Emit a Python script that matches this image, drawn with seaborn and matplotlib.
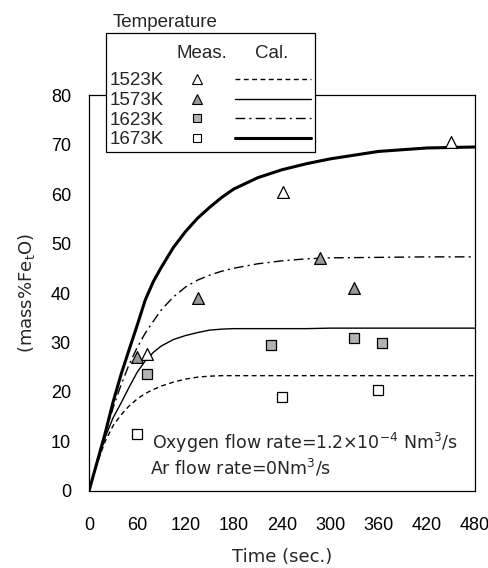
import numpy as np
import pandas as pd
import matplotlib
matplotlib.use('Agg')
import matplotlib.pyplot as plt
import seaborn as sns
from matplotlib.lines import Line2D
from matplotlib.legend_handler import HandlerBase

# ---------------- data ----------------
temps = ['1523K', '1573K', '1623K', '1673K']

# calculated curves (Cal.)
t_cal = [0, 10, 20, 30, 40, 50, 60, 70, 80, 90, 105, 120, 135, 150, 165, 180,
         210, 240, 270, 300, 360, 420, 480]
cal_1523 = [0, 5.5, 10.0, 13.2, 15.4, 17.2, 18.6, 19.7, 20.5, 21.2, 22.0, 22.6, 23.0,
            23.2, 23.3, 23.3, 23.3, 23.3, 23.3, 23.3, 23.3, 23.3, 23.3]
cal_1573 = [0, 5.6, 10.8, 14.8, 17.8, 21.0, 24.0, 26.3, 28.0, 29.3, 30.6, 31.4, 32.0,
            32.5, 32.7, 32.8, 32.8, 32.8, 32.8, 32.9, 32.9, 32.9, 32.9]
cal_1623 = [0, 5.8, 11.5, 16.8, 21.5, 25.6, 29.0, 31.9, 34.3, 36.6, 39.2, 41.2, 42.6,
            43.6, 44.4, 45.0, 45.9, 46.5, 46.9, 47.1, 47.2, 47.3, 47.3]
cal_1673 = [0, 5.8, 11.6, 18.0, 23.6, 28.6, 33.5, 38.6, 42.3, 45.2, 49.2, 52.4, 55.1,
            57.3, 59.3, 61.0, 63.3, 64.9, 66.1, 67.1, 68.6, 69.3, 69.5]

# measured points (Meas.)
t_1523 = [72, 241, 450]
m_1523 = [27.6, 60.4, 70.5]
t_1573 = [60, 135, 287, 330]
m_1573 = [27.1, 39.0, 47.0, 41.0]
t_1623 = [72, 227, 330, 365]
m_1623 = [23.7, 29.5, 31.0, 29.8]
t_1673 = [60, 240, 360]
m_1673 = [11.5, 19.0, 20.5]

# ---------------- styles ----------------
line_style = {
    '1523K': dict(color='black', lw=1.0, ls=(0, (3.5, 2.5))),
    '1573K': dict(color='black', lw=1.0, ls='-'),
    '1623K': dict(color='black', lw=1.0, ls=(0, (7, 3, 1.5, 3))),
    '1673K': dict(color='black', lw=2.2, ls='-'),
}
marker_style = {
    '1523K': dict(marker='^', fc='white', size=8.5),
    '1573K': dict(marker='^', fc='#999999', size=8.5),
    '1623K': dict(marker='s', fc='#b3b3b3', size=7.5),
    '1673K': dict(marker='s', fc='white', size=7.5),
}

sns.set_style('white')
plt.rcParams['font.family'] = ['Liberation Sans', 'DejaVu Sans']
plt.rcParams['mathtext.fontset'] = 'custom'
plt.rcParams['mathtext.rm'] = 'DejaVu Sans'
plt.rcParams['mathtext.it'] = 'DejaVu Sans:italic'
FS = 13
LFS = 13.5

cal = pd.DataFrame({'t': t_cal, '1523K': cal_1523, '1573K': cal_1573,
                    '1623K': cal_1623, '1673K': cal_1673})
meas = {
    '1523K': pd.DataFrame({'t': t_1523, 'v': m_1523}),
    '1573K': pd.DataFrame({'t': t_1573, 'v': m_1573}),
    '1623K': pd.DataFrame({'t': t_1623, 'v': m_1623}),
    '1673K': pd.DataFrame({'t': t_1673, 'v': m_1673}),
}

fig, ax = plt.subplots(figsize=(4.89, 5.68), dpi=100)
fig.subplots_adjust(left=0.182, right=0.971, bottom=0.1356, top=0.8327)

for k in temps:
    st = line_style[k]
    sns.lineplot(data=cal, x='t', y=k, ax=ax, color=st['color'],
                 linewidth=st['lw'], linestyle=st['ls'], zorder=2)

for k in temps:
    ms = marker_style[k]
    sns.scatterplot(data=meas[k], x='t', y='v', ax=ax, marker=ms['marker'],
                    s=ms['size'] ** 2, facecolor=ms['fc'], edgecolor='black',
                    linewidth=0.9, zorder=3)

ax.set_xlim(0, 480)
ax.set_ylim(0, 80)
ax.set_xticks(np.arange(0, 481, 60))
ax.set_yticks(np.arange(0, 81, 10))
ax.tick_params(direction='in', length=3, width=0.8, labelsize=FS, colors='black')
ax.tick_params(axis='x', pad=19)
ax.tick_params(axis='y', pad=13)
for sp in ax.spines.values():
    sp.set_color('black')
    sp.set_linewidth(0.9)
ax.set_xlabel('Time (sec.)', fontsize=FS, labelpad=10, family='DejaVu Sans')
ax.set_ylabel(r'(mass%Fe$_\mathregular{t}$O)', fontsize=FS, labelpad=10,
              family='DejaVu Sans')

ax.text(0.162, 0.121, r'Oxygen flow rate=1.2$\times$10$^{-4}$ Nm$^3$/s',
        transform=ax.transAxes, fontsize=12.5, va='center', ha='left',
        family='DejaVu Sans')
ax.text(0.158, 0.058, r'Ar flow rate=0Nm$^3$/s',
        transform=ax.transAxes, fontsize=12.5, va='center', ha='left',
        family='DejaVu Sans')


# ---------------- legend: Meas. marker + Cal. line in one row ----------------
class MeasCalHandler(HandlerBase):
    def create_artists(self, legend, orig, xd, yd, w, h, fontsize, trans):
        k = orig[0]
        ms, st = marker_style[k], line_style[k]
        y = h / 2 - yd
        m = Line2D([w * 0.16 - xd], [y], ls='none', marker=ms['marker'],
                   markersize=ms['size'] * 0.8, mfc=ms['fc'], mec='black', mew=0.8,
                   transform=trans)
        ln = Line2D([w * 0.44 - xd, w - xd], [y, y], color=st['color'],
                    lw=st['lw'], ls=st['ls'], transform=trans)
        return [m, ln]


handles = [(k,) for k in temps]
leg = ax.legend(handles, temps, handler_map={tuple: MeasCalHandler()},
                loc='upper left', bbox_to_anchor=(0.044, 1.157), borderaxespad=0,
                markerfirst=False, fontsize=LFS, handlelength=7.25, handleheight=0.7,
                handletextpad=0.6, labelspacing=0.135, borderpad=0.21,
                title=' ', title_fontsize=25,
                frameon=True, fancybox=False, edgecolor='black', framealpha=1)
leg.get_frame().set_linewidth(0.9)

# column headers inside the legend box and the caption above it
ax.text(0.293, 1.106, 'Meas.', transform=ax.transAxes, fontsize=LFS,
        ha='center', va='center', zorder=6)
ax.text(0.474, 1.106, 'Cal.', transform=ax.transAxes, fontsize=LFS,
        ha='center', va='center', zorder=6)
ax.text(0.062, 1.184, 'Temperature', transform=ax.transAxes, fontsize=LFS,
        ha='left', va='center')

plt.savefig('out.png', dpi=100)
